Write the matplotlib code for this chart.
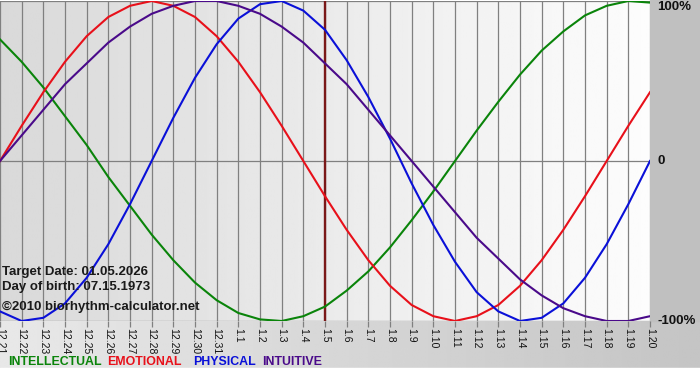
import matplotlib
matplotlib.use('Agg')
import matplotlib.pyplot as plt
import numpy as np

# Days shown, 12.21 .. 1.20
dates = ['12.21', '12.22', '12.23', '12.24', '12.25', '12.26', '12.27', '12.28',
         '12.29', '12.30', '12.31', '1.1', '1.2', '1.3', '1.4', '1.5', '1.6', '1.7',
         '1.8', '1.9', '1.10', '1.11', '1.12', '1.13', '1.14', '1.15', '1.16',
         '1.17', '1.18', '1.19', '1.20']

# Cycle values (-1 .. 1)
intellectual = [0.76, 0.62, 0.46, 0.28, 0.10, -0.10, -0.28, -0.46, -0.62, -0.76,
                -0.87, -0.95, -0.99, -1.00, -0.97, -0.91, -0.81, -0.69, -0.54,
                -0.37, -0.19, 0.00, 0.19, 0.37, 0.54, 0.69, 0.81, 0.91, 0.97,
                1.00, 0.99]
emotional = [0.00, 0.22, 0.43, 0.62, 0.78, 0.90, 0.97, 1.00, 0.97, 0.90, 0.78,
             0.62, 0.43, 0.22, 0.00, -0.22, -0.43, -0.62, -0.78, -0.90, -0.97,
             -1.00, -0.97, -0.90, -0.78, -0.62, -0.43, -0.22, 0.00, 0.22, 0.43]
physical = [-0.94, -1.00, -0.98, -0.89, -0.73, -0.52, -0.27, 0.00, 0.27, 0.52,
            0.73, 0.89, 0.98, 1.00, 0.94, 0.82, 0.63, 0.40, 0.14, -0.14, -0.40,
            -0.63, -0.82, -0.94, -1.00, -0.98, -0.89, -0.73, -0.52, -0.27, 0.00]
intuitive = [0.00, 0.16, 0.32, 0.48, 0.61, 0.74, 0.84, 0.92, 0.97, 1.00, 1.00,
             0.97, 0.92, 0.84, 0.74, 0.61, 0.48, 0.32, 0.16, 0.00, -0.16, -0.32,
             -0.48, -0.61, -0.74, -0.84, -0.92, -0.97, -1.00, -1.00, -0.97]
target_index = 15  # 1.5

c_int = '#0a840a'
c_emo = '#e8101a'
c_phy = '#0a10d8'
c_itu = '#4a0a8a'

W, H = 700, 380
fig = plt.figure(figsize=(W / 100, H / 100), dpi=100)

# figure background: gray bottom band + right margin, white strip at very bottom
bg = fig.add_axes([0, 0, 1, 1])
bg.set_xlim(0, W)
bg.set_ylim(H, 0)
bg.axis('off')
grad = np.linspace(0.91, 0.77, 256).reshape(1, -1)
bg.imshow(grad, cmap='gray', vmin=0, vmax=1, aspect='auto',
          extent=[0, W, 368, 321], zorder=0)
bg.add_patch(plt.Rectangle((650, 0), 50, 321, color='#c0c0c0', zorder=1))
bg.add_patch(plt.Rectangle((0, 368), W, 12, color='white', zorder=1))

# plot area
ax = fig.add_axes([0, 59 / H, 650 / W, 320 / H])
x = np.arange(len(dates))
ax.set_xlim(0, len(dates) - 1)
ax.set_ylim(-1, 1)
pgrad = np.linspace(0.85, 0.99, 256).reshape(1, -1)
ax.imshow(pgrad, cmap='gray', vmin=0, vmax=1, aspect='auto',
          extent=[0, len(dates) - 1, -1, 1], zorder=0)

for xi in x:
    ax.axvline(xi, color='#808080', lw=0.9, zorder=1)
ax.axhline(0, color='#808080', lw=0.9, zorder=1)
ax.axhline(1, color='#808080', lw=0.9, zorder=1)
ax.axhline(-1, color='#808080', lw=0.9, zorder=1)

ax.axvline(x[target_index], color='#7a1818', lw=1.7, zorder=2)

for series, col in [(intellectual, c_int), (emotional, c_emo),
                    (physical, c_phy), (intuitive, c_itu)]:
    ax.plot(x, series, color=col, lw=1.5, zorder=3, solid_joinstyle='round')

for s in ax.spines.values():
    s.set_visible(False)
ax.set_xticks(x)
ax.set_xticklabels(dates, rotation=270, fontsize=7.5, color='#111111',
                   family='Liberation Sans')
ax.set_yticks([])
ax.tick_params(axis='x', length=4, width=0.9, color='#808080', pad=1)

# right side labels
for yp, lab in [(7, '100%'), (161, '0'), (321, '-100%')]:
    fig.text(657 / W, 1 - yp / H, lab, fontsize=9.5, fontweight='bold',
             family='Liberation Sans', color='#111111', ha='left', va='center')

# info text
info = [('Target Date: 01.05.2026', 272), ('Day of birth: 07.15.1973', 287),
        ('\u00a92010 biorhythm-calculator.net', 307)]
for txt, yp in info:
    fig.text(2 / W, 1 - yp / H, txt, fontsize=9.5, fontweight='bold',
             family='Liberation Sans', color='#1a1a1a', va='center')

# legend
legend = [('INTELLECTUAL', c_int, 8), ('EMOTIONAL', c_emo, 107),
          ('PHYSICAL', c_phy, 193), ('INTUITIVE', c_itu, 262)]
for txt, col, xp in legend:
    fig.text(xp / W, 1 - 362 / H, txt, fontsize=8.9, fontweight='bold',
             family='Liberation Sans', color=col, va='center')

plt.savefig('out.png', dpi=100)
plt.close()
